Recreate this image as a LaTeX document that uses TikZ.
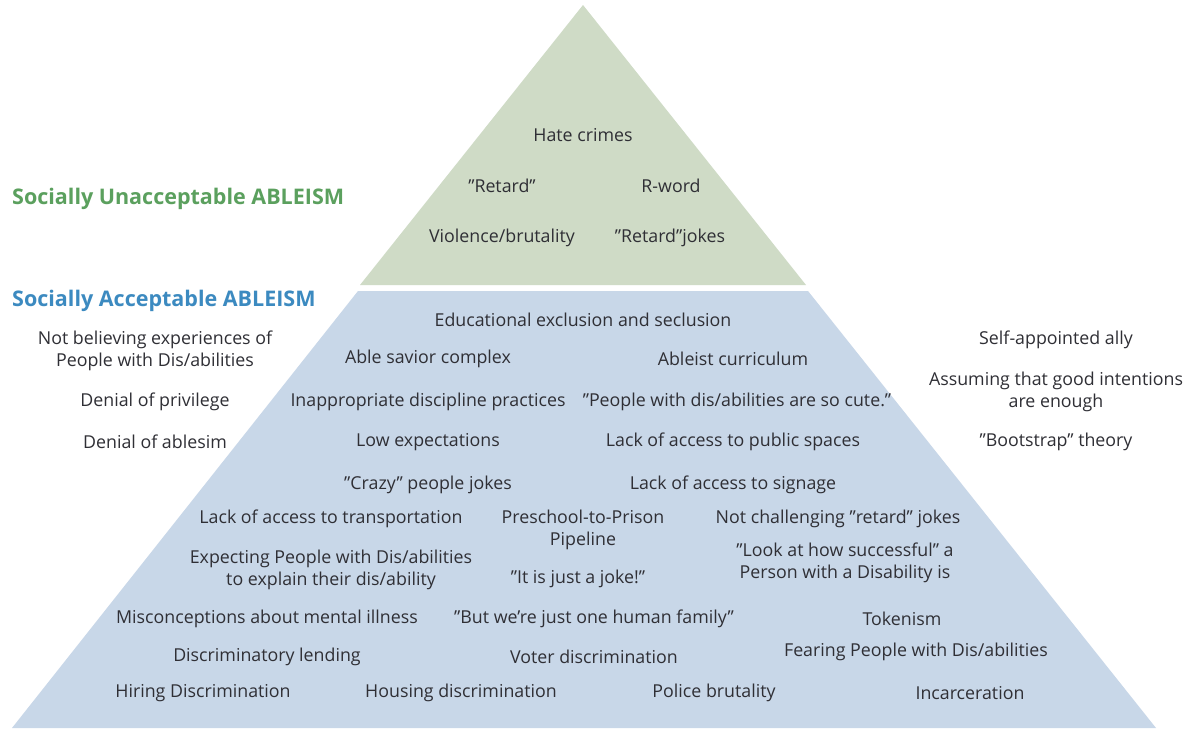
\documentclass[tikz,border=0pt]{standalone}
\usepackage{fontspec}
\setmainfont{Open Sans}
\definecolor{topgreen}{HTML}{CFDBC6}
\definecolor{lowblue}{HTML}{C8D7E8}
\definecolor{txt}{HTML}{2F2F35}
\definecolor{headgreen}{HTML}{5BA05E}
\definecolor{headblue}{HTML}{3C8AC0}
\tikzset{
  item/.style={text=txt, font=\fontsize{17.8}{22}\selectfont, align=center, inner sep=0pt},
  heading/.style={font=\fontsize{21.5}{26}\bfseries\selectfont, anchor=west, inner sep=0pt},
}
\begin{document}
\begin{tikzpicture}[x=1pt,y=-1pt]
\useasboundingbox (0,0) rectangle (1188,728);
\fill[white] (0,0) rectangle (1188,728);
% top triangle
\fill[topgreen] (583,5) -- (806,285) -- (360,285) -- cycle;
% lower trapezoid
\fill[lowblue] (358,291) -- (808,291) -- (1156,728) -- (12,728) -- cycle;
% headings
\node[heading, text=headgreen] (hU) at (12,199) {Socially Unacceptable ABLEISM};
\node[heading, text=headblue] (hA) at (12,301) {Socially Acceptable ABLEISM};
% top triangle items
\node[item] (t1) at (583,135) {Hate crimes};
\node[item] (t2) at (502,186) {"Retard"};
\node[item] (t3) at (671,186) {R-word};
\node[item] (t4) at (502,238) {Violence/brutality};
\node[item] (t5) at (670,238) {"Retard"jokes};
% trapezoid items
\node[item] (a1) at (583,320) {Educational exclusion and seclusion};
\node[item] (a2) at (428,359) {Able savior complex};
\node[item] (a3) at (733,359) {Ableist curriculum};
\node[item] (a4) at (428,402) {Inappropriate discipline practices};
\node[item] (a5) at (737,402) {"People with dis/abilities are so cute."};
\node[item] (a6) at (428,442) {Low expectations};
\node[item] (a7) at (733,442) {Lack of access to public spaces};
\node[item] (a8) at (428,485) {"Crazy" people jokes};
\node[item] (a9) at (733,485) {Lack of access to signage};
\node[item] (b1) at (331,519) {Lack of access to transportation};
\node[item] (b2) at (583,530) {Preschool-to-Prison\\Pipeline};
\node[item] (b3) at (838,519) {Not challenging "retard" jokes};
\node[item] (b4) at (331,570) {Expecting People with Dis/abilities\\to explain their dis/ability};
\node[item] (b5) at (578,579) {"It is just a joke!"};
\node[item] (b6) at (845,563) {"Look at how successful" a\\Person with a Disability is};
\node[item] (c1) at (267,619) {Misconceptions about mental illness};
\node[item] (c2) at (594,619) {"But we're just one human family"};
\node[item] (c3) at (902,619) {Tokenism};
\node[item] (c4) at (267,657) {Discriminatory lending};
\node[item] (c5) at (594,657) {Voter discrimination};
\node[item] (c6) at (916,652) {Fearing People with Dis/abilities};
\node[item] (d1) at (203,693) {Hiring Discrimination};
\node[item] (d2) at (461,693) {Housing discrimination};
\node[item] (d3) at (714,693) {Police brutality};
\node[item] (d4) at (970,693) {Incarceration};
% left side
\node[item] (l1) at (155,351) {Not believing experiences of\\People with Dis/abilities};
\node[item] (l2) at (155,402) {Denial of privilege};
\node[item] (l3) at (155,442) {Denial of ablesim};
% right side
\node[item] (r1) at (1056,340) {Self-appointed ally};
\node[item] (r2) at (1056,392) {Assuming that good intentions\\are enough};
\node[item] (r3) at (1056,442) {"Bootstrap" theory};
\end{tikzpicture}
\end{document}
